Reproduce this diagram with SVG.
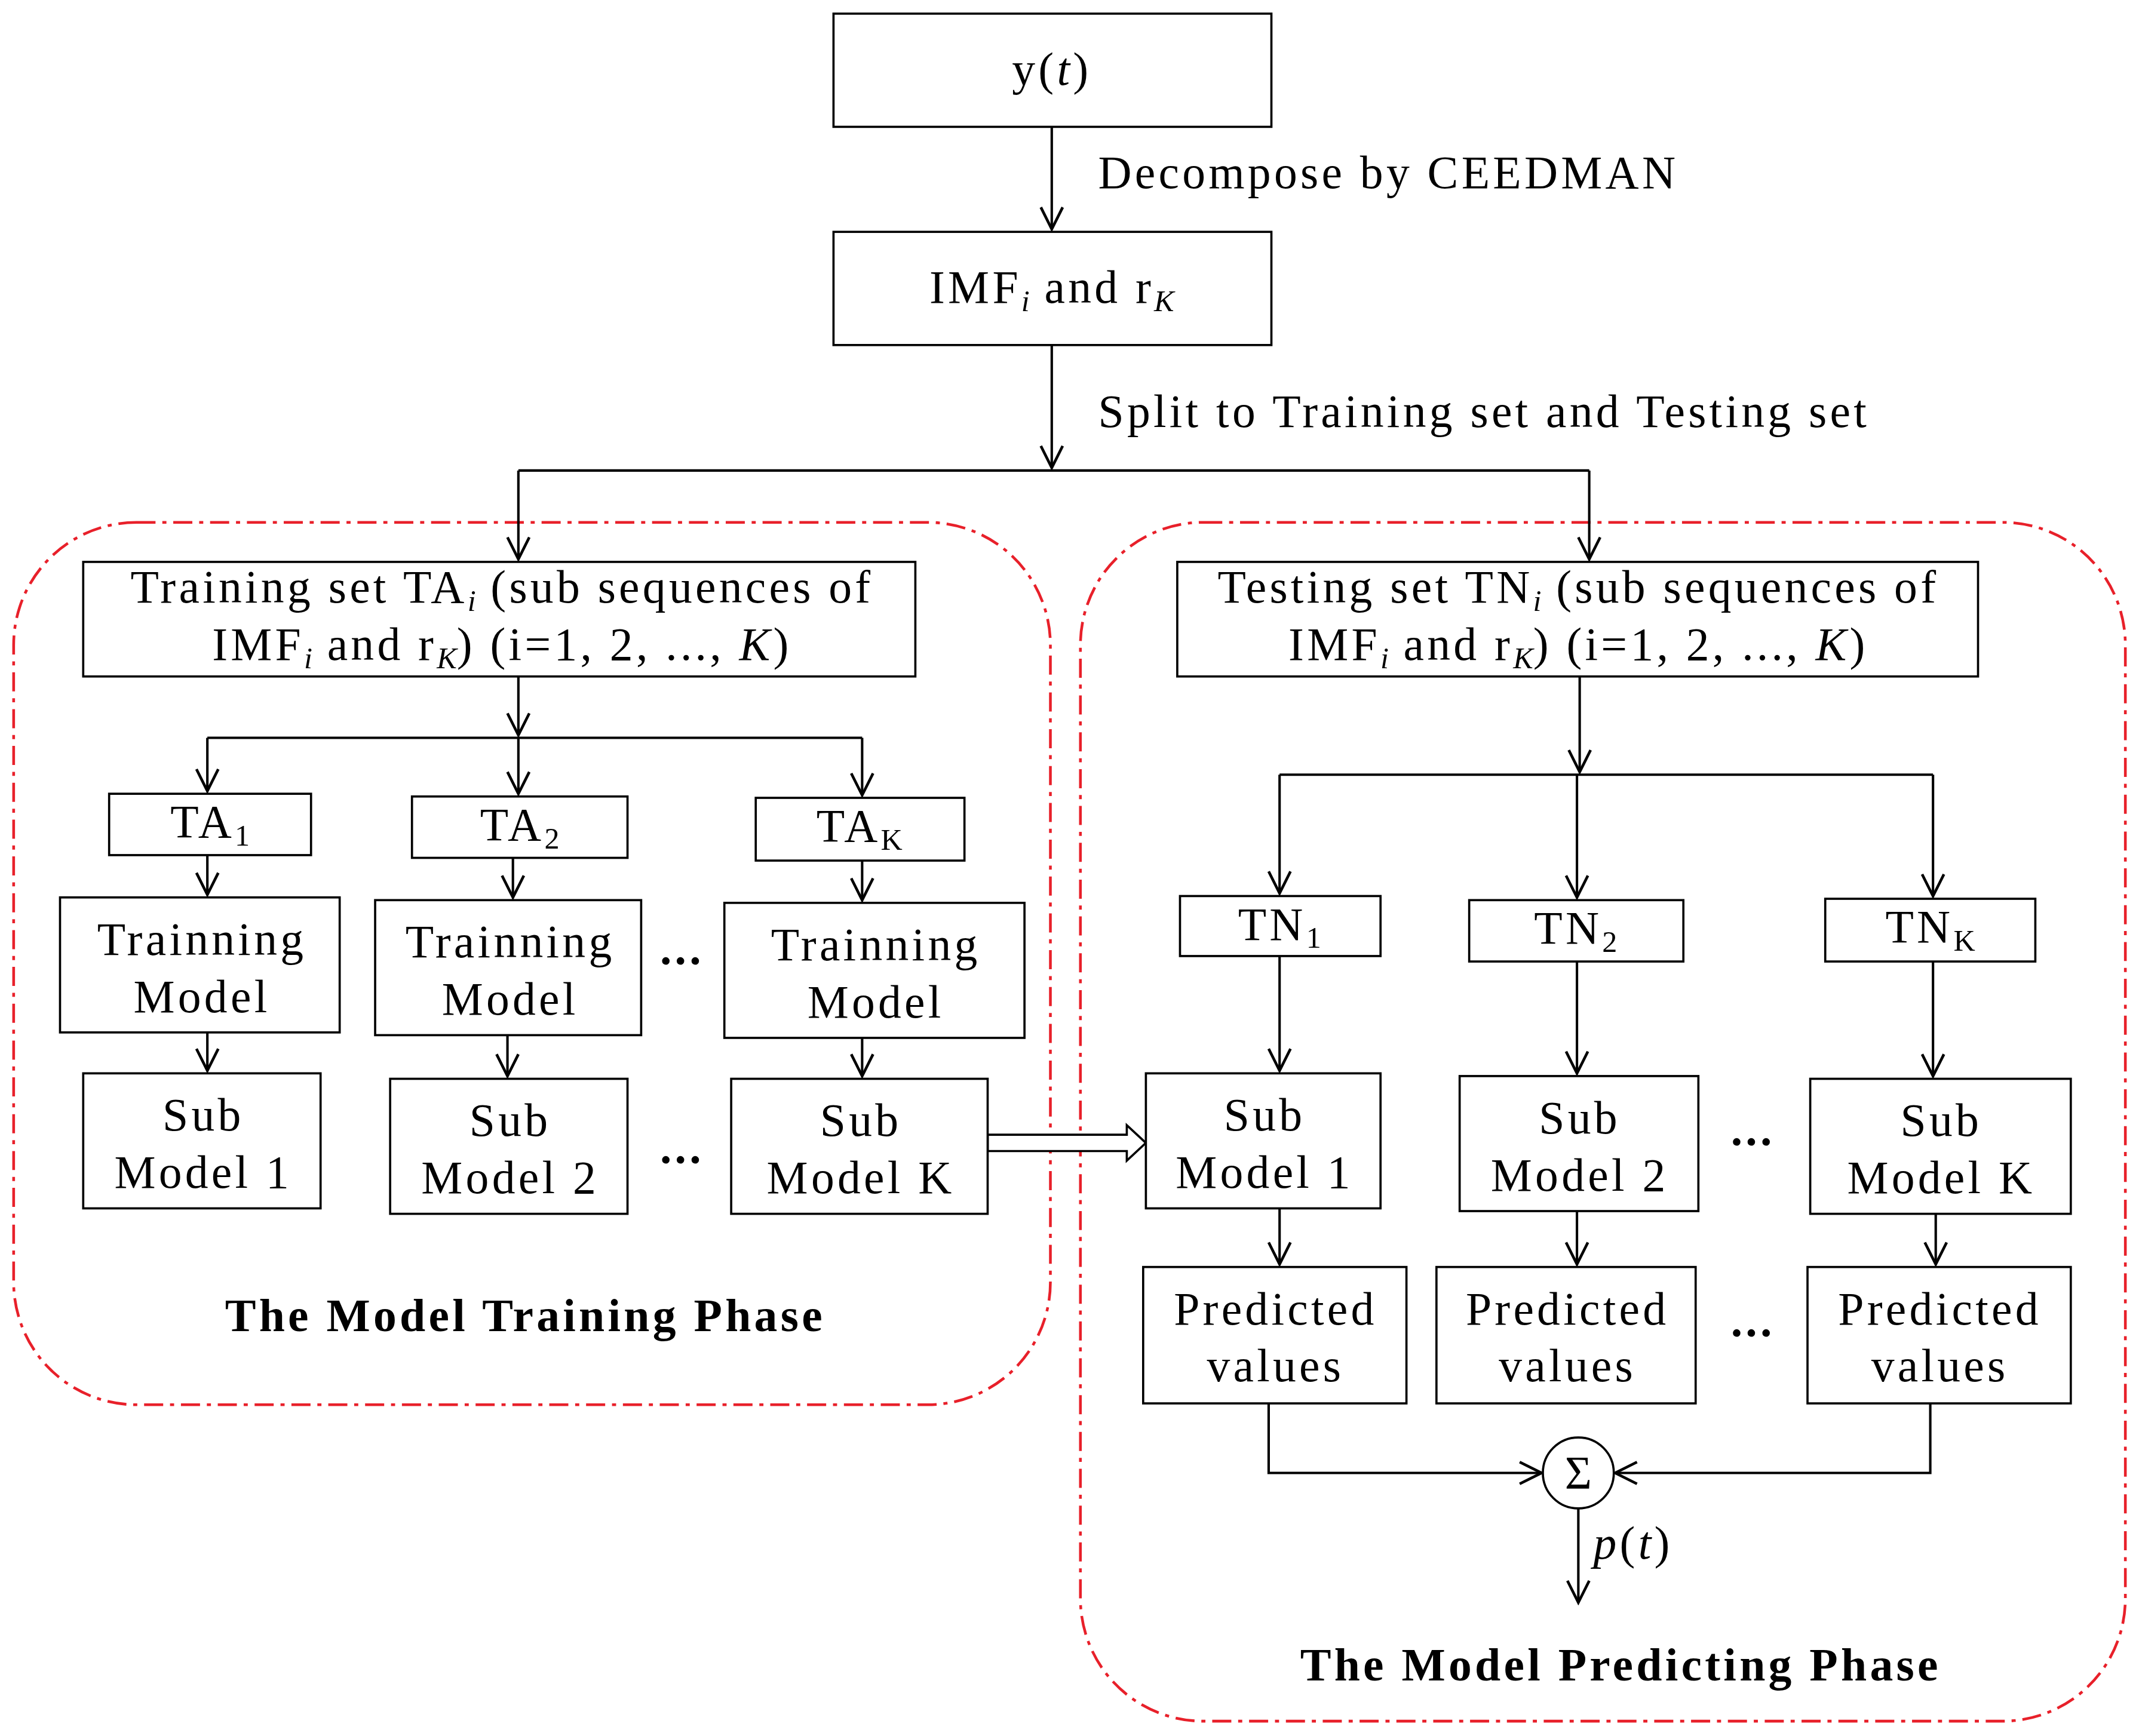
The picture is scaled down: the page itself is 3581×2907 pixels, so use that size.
<svg xmlns="http://www.w3.org/2000/svg" width="3581" height="2907" viewBox="0 0 3581 2907">
<defs>
<marker id="ah" viewBox="0 0 20 20" refX="18" refY="10" markerWidth="20" markerHeight="20" markerUnits="userSpaceOnUse" orient="auto">
<path d="M2,2 L18,10 L2,18" fill="none" stroke="#000" stroke-width="2"/>
</marker>
<style>
.b{fill:#fff;stroke:#000;stroke-width:1.6}
.c{fill:none;stroke:#000;stroke-width:1.8}
.a{fill:none;stroke:#000;stroke-width:1.8;marker-end:url(#ah)}
.r{fill:none;stroke:#e8202a;stroke-width:2;stroke-dasharray:14,5,3,5}
text{font-family:"Liberation Serif","Times New Roman",serif;font-size:34px;letter-spacing:2.3px;fill:#000}
.m{text-anchor:middle}
.bo{font-weight:bold}
.s{font-size:22px;letter-spacing:0}
</style>
</defs>
<rect width="3581" height="2907" fill="#fff"/>
<g transform="scale(2.2838)">
<g id="phases">
<rect class="r" x="10" y="383" width="760" height="647" rx="90"/>
<rect class="r" x="792" y="383" width="766" height="879" rx="90"/>
</g>
<g id="connectors">
<path class="a" d="M771,93 V168"/>
<path class="a" d="M771,253 V343"/>
<path class="c" d="M380,345 H1165"/>
<path class="a" d="M380,345 V410"/>
<path class="a" d="M1165,345 V410"/>
<path class="a" d="M380,496 V539"/>
<path class="c" d="M152,541 H632"/>
<path class="a" d="M152,541 V580"/><path class="a" d="M380,541 V582"/><path class="a" d="M632,541 V583"/>
<path class="a" d="M152,627 V656"/><path class="a" d="M376,629 V658"/><path class="a" d="M632,631 V660"/>
<path class="a" d="M152,757 V785"/><path class="a" d="M372,759 V789"/><path class="a" d="M632,761 V789"/>
<path d="M724,832 H826 V825 L840,838 L826,851 V844 H724 Z" fill="#fff" stroke="#000" stroke-width="1.6"/>
<path class="a" d="M1158,496 V566"/>
<path class="c" d="M938,568 H1417"/>
<path class="a" d="M938,568 V655"/><path class="a" d="M1156,568 V658"/><path class="a" d="M1417,568 V657"/>
<path class="a" d="M938,701 V785"/><path class="a" d="M1156,705 V787"/><path class="a" d="M1417,705 V789"/>
<path class="a" d="M938,886 V927"/><path class="a" d="M1156,888 V927"/><path class="a" d="M1419,890 V927"/>
<path class="a" d="M930,1029 V1080 H1130"/>
<path class="a" d="M1415,1029 V1080 H1184"/>
<path class="a" d="M1157,1106 V1175"/>
</g>
<g id="labels">
<text x="805" y="138">Decompose by CEEDMAN</text>
<text x="805" y="313">Split to Training set and Testing set</text>
<text x="1168" y="1143" font-style="italic">p<tspan font-style="normal">(</tspan>t<tspan font-style="normal">)</tspan></text>
<text x="500" y="707" class="m bo">...</text>
<text x="500" y="853" class="m bo">...</text>
<text x="1285" y="840" class="m bo">...</text>
<text x="1285" y="980" class="m bo">...</text>
<text x="385" y="976" class="m bo">The Model Training Phase</text>
<text x="1188" y="1232" class="m bo">The Model Predicting Phase</text>
</g>
<g id="yt"><rect class="b" x="611" y="10" width="321" height="83"/><text x="771" y="62" class="m">y(<tspan font-style="italic">t</tspan>)</text></g>
<g id="imf"><rect class="b" x="611" y="170" width="321" height="83"/><text x="771" y="222" class="m">IMF<tspan class="s" font-style="italic" dy="6">i</tspan><tspan dy="-6"> and r</tspan><tspan class="s" font-style="italic" dy="6">K</tspan></text></g>
<g id="training"><rect class="b" x="61" y="412" width="610" height="84"/>
<text x="368" y="442" class="m">Training set TA<tspan class="s" font-style="italic" dy="6">i</tspan><tspan dy="-6"> (sub sequences of</tspan></text>
<text x="368" y="484" class="m">IMF<tspan class="s" font-style="italic" dy="6">i</tspan><tspan dy="-6"> and r</tspan><tspan class="s" font-style="italic" dy="6">K</tspan><tspan dy="-6">) (i=1, 2, ..., </tspan><tspan font-style="italic">K</tspan>)</text></g>
<g id="testing"><rect class="b" x="863" y="412" width="587" height="84"/>
<text x="1157" y="442" class="m">Testing set TN<tspan class="s" font-style="italic" dy="6">i</tspan><tspan dy="-6"> (sub sequences of</tspan></text>
<text x="1157" y="484" class="m">IMF<tspan class="s" font-style="italic" dy="6">i</tspan><tspan dy="-6"> and r</tspan><tspan class="s" font-style="italic" dy="6">K</tspan><tspan dy="-6">) (i=1, 2, ..., </tspan><tspan font-style="italic">K</tspan>)</text></g>
<g id="ta1"><rect class="b" x="80" y="582" width="148" height="45"/><text x="154" y="614" class="m">TA<tspan class="s" dy="6">1</tspan></text></g>
<g id="ta2"><rect class="b" x="302" y="584" width="158" height="45"/><text x="381" y="616" class="m">TA<tspan class="s" dy="6">2</tspan></text></g>
<g id="tak"><rect class="b" x="554" y="585" width="153" height="46"/><text x="630" y="617" class="m">TA<tspan class="s" dy="6">K</tspan></text></g>
<g id="tm1"><rect class="b" x="44" y="658" width="205" height="99"/><text x="148" y="700" class="m">Trainning</text><text x="148" y="742" class="m">Model</text></g>
<g id="tm2"><rect class="b" x="275" y="660" width="195" height="99"/><text x="374" y="702" class="m">Trainning</text><text x="374" y="744" class="m">Model</text></g>
<g id="tmk"><rect class="b" x="531" y="662" width="220" height="99"/><text x="642" y="704" class="m">Trainning</text><text x="642" y="746" class="m">Model</text></g>
<g id="sm1"><rect class="b" x="61" y="787" width="174" height="99"/><text x="149" y="829" class="m">Sub</text><text x="149" y="871" class="m">Model 1</text></g>
<g id="sm2"><rect class="b" x="286" y="791" width="174" height="99"/><text x="374" y="833" class="m">Sub</text><text x="374" y="875" class="m">Model 2</text></g>
<g id="smk"><rect class="b" x="536" y="791" width="188" height="99"/><text x="631" y="833" class="m">Sub</text><text x="631" y="875" class="m">Model K</text></g>
<g id="tn1"><rect class="b" x="865" y="657" width="147" height="44"/><text x="938" y="689" class="m">TN<tspan class="s" dy="6">1</tspan></text></g>
<g id="tn2"><rect class="b" x="1077" y="660" width="157" height="45"/><text x="1155" y="692" class="m">TN<tspan class="s" dy="6">2</tspan></text></g>
<g id="tnk"><rect class="b" x="1338" y="659" width="154" height="46"/><text x="1415" y="691" class="m">TN<tspan class="s" dy="6">K</tspan></text></g>
<g id="ps1"><rect class="b" x="840" y="787" width="172" height="99"/><text x="927" y="829" class="m">Sub</text><text x="927" y="871" class="m">Model 1</text></g>
<g id="ps2"><rect class="b" x="1070" y="789" width="175" height="99"/><text x="1158" y="831" class="m">Sub</text><text x="1158" y="873" class="m">Model 2</text></g>
<g id="psk"><rect class="b" x="1327" y="791" width="191" height="99"/><text x="1423" y="833" class="m">Sub</text><text x="1423" y="875" class="m">Model K</text></g>
<g id="pv1"><rect class="b" x="838" y="929" width="193" height="100"/><text x="935" y="971" class="m">Predicted</text><text x="935" y="1013" class="m">values</text></g>
<g id="pv2"><rect class="b" x="1053" y="929" width="190" height="100"/><text x="1149" y="971" class="m">Predicted</text><text x="1149" y="1013" class="m">values</text></g>
<g id="pvk"><rect class="b" x="1325" y="929" width="193" height="100"/><text x="1422" y="971" class="m">Predicted</text><text x="1422" y="1013" class="m">values</text></g>
<g id="sum"><circle class="b" cx="1157" cy="1080" r="26"/><text x="1157" y="1091" class="m" style="letter-spacing:0">Σ</text></g>
</g>
</svg>
